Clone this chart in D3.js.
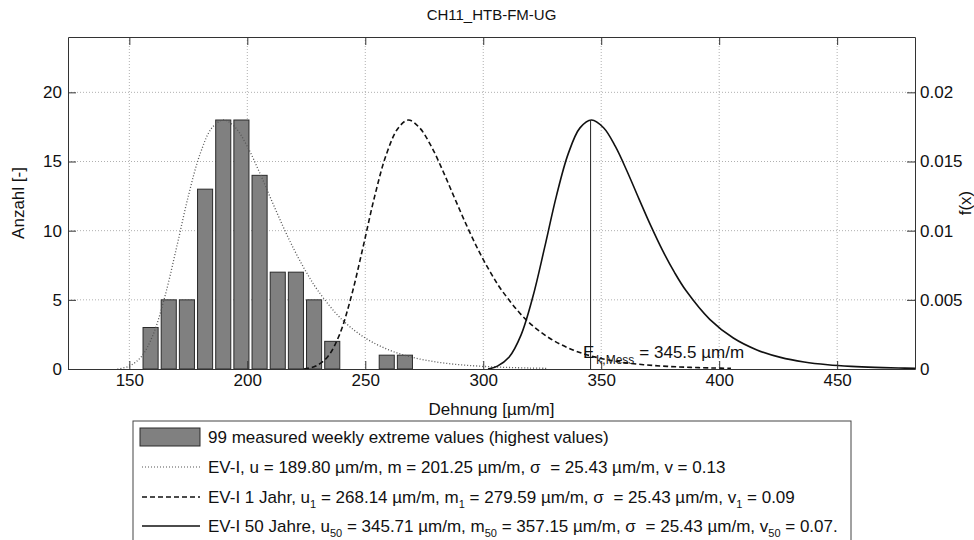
<!DOCTYPE html>
<html>
<head>
<meta charset="utf-8">
<script src="https://cdn.jsdelivr.net/npm/d3@7"></script>
<style>
  body { margin: 0; background: #fff; }
  svg { font-family: "Liberation Sans", Arial, sans-serif; }
</style>
</head>
<body>
<svg id="chart" width="974" height="540"></svg>
<script>
// ---------------- DATA ----------------
const title = "CH11_HTB-FM-UG";
const xTicks = [150, 200, 250, 300, 350, 400, 450];
const yLeftTicks = [0, 5, 10, 15, 20];
const yRightTicks = [0, 0.005, 0.01, 0.015, 0.02];
const yRightLabels = ["0", "0.005", "0.01", "0.015", "0.02"];

// histogram (bin centres, counts)
const binCenters = [159.0, 166.7, 174.4, 182.1, 189.8, 197.5, 205.2, 212.9, 220.6, 228.3, 236.0, 243.7, 251.4, 259.1, 266.8];
const binCounts  = [3, 5, 5, 13, 18, 18, 14, 7, 7, 5, 2, 0, 0, 1, 1];

// EV-I (dotted)
const evX = [145, 150, 155, 160, 165, 170, 175, 180, 185, 190, 195, 200, 205, 210, 215, 220, 225, 230, 240, 250, 260, 270, 280, 290, 300, 310, 320, 327];
const evF = [0.0, 0.00021, 0.00087, 0.00245, 0.0052, 0.00877, 0.0125, 0.01555, 0.01743, 0.0180, 0.01744, 0.01609, 0.01428, 0.0123, 0.01036, 0.00857, 0.0070, 0.00565, 0.00359, 0.00224, 0.00138, 0.00084, 0.00051, 0.00031, 0.00019, 0.000115, 0.00007, 0.00005];

// EV-I 1 Jahr (dashed)
const ev1X = [224, 229, 234, 239, 244, 249, 254, 259, 264, 268.3, 273, 278, 283, 288, 293, 298, 303, 308, 318, 328, 338, 348, 358, 368, 378, 388, 398, 405];
const ev1F = [0.0, 0.00021, 0.00087, 0.00245, 0.0052, 0.00877, 0.0125, 0.01555, 0.01743, 0.0180, 0.01744, 0.01609, 0.01428, 0.0123, 0.01036, 0.00857, 0.0070, 0.00565, 0.00359, 0.00224, 0.00138, 0.00084, 0.00051, 0.00031, 0.00019, 0.000115, 0.00007, 0.00005];

// EV-I 50 Jahre (solid)
const ev50X = [302, 306, 311, 316, 321, 326, 331, 336, 341, 345.9, 351, 356, 361, 366, 371, 376, 381, 386, 396, 406, 416, 426, 436, 446, 456, 466, 476, 483];
const ev50F = [0.0, 0.00021, 0.00087, 0.00245, 0.0052, 0.00877, 0.0125, 0.01555, 0.01743, 0.0180, 0.01744, 0.01609, 0.01428, 0.0123, 0.01036, 0.00857, 0.0070, 0.00565, 0.00359, 0.00224, 0.00138, 0.00084, 0.00051, 0.00031, 0.00019, 0.000115, 0.00007, 0.00005];

const eMess = 345.5;
const eMessPeak = 0.0180;

// ---------------- LAYOUT ----------------
const L = 68, R = 915, T = 37, B = 369;
const svg = d3.select("#chart");
const x = d3.scaleLinear().domain([124, 483]).range([L, R]);
const yL = d3.scaleLinear().domain([0, 24]).range([B, T]);
const yR = d3.scaleLinear().domain([0, 0.024]).range([B, T]);
const FS = 17;

// clip
svg.append("defs").append("clipPath").attr("id", "clip")
  .append("rect").attr("x", L).attr("y", T).attr("width", R - L).attr("height", B - T);

// grid
const grid = svg.append("g");
grid.selectAll("line.gx").data(xTicks).join("line")
  .attr("x1", d => x(d)).attr("x2", d => x(d)).attr("y1", T).attr("y2", B)
  .attr("stroke", "#b0b0b0").attr("stroke-width", 1).attr("stroke-dasharray", "1,2");
grid.selectAll("line.gy").data(yLeftTicks.filter(d => d > 0)).join("line")
  .attr("x1", L).attr("x2", R).attr("y1", d => yL(d)).attr("y2", d => yL(d))
  .attr("stroke", "#b0b0b0").attr("stroke-width", 1).attr("stroke-dasharray", "1,2");

// bars
const binW = binCenters[1] - binCenters[0];
const barFrac = 0.83;
svg.append("g").selectAll("rect").data(binCenters.map((c, i) => ({c, n: binCounts[i]})).filter(d => d.n > 0))
  .join("rect")
  .attr("x", d => x(d.c - binW * barFrac / 2))
  .attr("width", d => x(d.c + binW * barFrac / 2) - x(d.c - binW * barFrac / 2))
  .attr("y", d => yL(d.n))
  .attr("height", d => yL(0) - yL(d.n))
  .attr("fill", "#808080").attr("stroke", "#2a2a2a").attr("stroke-width", 1);

// curves
const line = d3.line().x(d => x(d[0])).y(d => yR(d[1])).curve(d3.curveCatmullRom.alpha(0.5));
const gC = svg.append("g").attr("clip-path", "url(#clip)");
gC.append("path").datum(evX.map((v, i) => [v, evF[i]])).attr("d", line)
  .attr("fill", "none").attr("stroke", "#555").attr("stroke-width", 1.3).attr("stroke-dasharray", "1,2");
gC.append("path").datum(ev1X.map((v, i) => [v, ev1F[i]])).attr("d", line)
  .attr("fill", "none").attr("stroke", "#111").attr("stroke-width", 1.6).attr("stroke-dasharray", "5,3");
gC.append("path").datum(ev50X.map((v, i) => [v, ev50F[i]])).attr("d", line)
  .attr("fill", "none").attr("stroke", "#111").attr("stroke-width", 1.6);

// E_k,Mess vertical line
svg.append("line").attr("x1", x(eMess)).attr("x2", x(eMess)).attr("y1", yR(0)).attr("y2", yR(eMessPeak))
  .attr("stroke", "#222").attr("stroke-width", 1);

// annotation
const ann = svg.append("text").attr("x", 583).attr("y", 358).attr("font-size", 17).attr("fill", "#111");
ann.append("tspan").text("E");
ann.append("tspan").attr("font-size", 12).attr("dy", 6).attr("dx", 2).text("k,Mess");
ann.append("tspan").attr("dy", -6).attr("dx", 5).text("= 345.5 µm/m");

// axes
const axB = svg.append("g").attr("transform", `translate(0,${B})`)
  .call(d3.axisBottom(x).tickValues(xTicks).tickSizeInner(-8).tickSizeOuter(0).tickPadding(5));
const axT = svg.append("g").attr("transform", `translate(0,${T})`)
  .call(d3.axisTop(x).tickValues(xTicks).tickSizeInner(-8).tickSizeOuter(0).tickFormat(""));
const axL = svg.append("g").attr("transform", `translate(${L},0)`)
  .call(d3.axisLeft(yL).tickValues(yLeftTicks).tickSizeInner(-8).tickSizeOuter(0).tickPadding(6));
const axR = svg.append("g").attr("transform", `translate(${R},0)`)
  .call(d3.axisRight(yR).tickValues(yRightTicks).tickSizeInner(-8).tickSizeOuter(0).tickPadding(5)
    .tickFormat((d, i) => yRightLabels[i]));
[axB, axT, axL, axR].forEach(a => {
  a.selectAll("text").attr("font-size", FS).attr("fill", "#111").attr("font-family", "Liberation Sans, Arial, sans-serif");
  a.selectAll("line").attr("stroke", "#333");
  a.select(".domain").attr("stroke", "#333");
});

// labels
svg.append("text").attr("x", (L + R) / 2).attr("y", 20).attr("text-anchor", "middle")
  .attr("font-size", 15).attr("fill", "#111").text(title);
svg.append("text").attr("x", (L + R) / 2).attr("y", 415).attr("text-anchor", "middle")
  .attr("font-size", FS).attr("fill", "#111").text("Dehnung [µm/m]");
svg.append("text").attr("transform", `translate(24,${(T + B) / 2}) rotate(-90)`).attr("text-anchor", "middle")
  .attr("font-size", FS).attr("fill", "#111").text("Anzahl [-]");
svg.append("text").attr("transform", `translate(971,${(T + B) / 2}) rotate(-90)`).attr("text-anchor", "middle")
  .attr("font-size", FS).attr("fill", "#111").text("f(x)");

// legend
const lg = svg.append("g");
lg.append("rect").attr("x", 133).attr("y", 421).attr("width", 718).attr("height", 130)
  .attr("fill", "#fff").attr("stroke", "#444").attr("stroke-width", 1);
const rows = [437, 467, 497, 526];
lg.append("rect").attr("x", 140).attr("y", 428).attr("width", 60).attr("height", 18)
  .attr("fill", "#808080").attr("stroke", "#2a2a2a");
lg.append("line").attr("x1", 142).attr("x2", 200).attr("y1", rows[1]).attr("y2", rows[1])
  .attr("stroke", "#555").attr("stroke-width", 1.2).attr("stroke-dasharray", "1,2");
lg.append("line").attr("x1", 142).attr("x2", 200).attr("y1", rows[2]).attr("y2", rows[2])
  .attr("stroke", "#111").attr("stroke-width", 1.4).attr("stroke-dasharray", "5,3");
lg.append("line").attr("x1", 142).attr("x2", 200).attr("y1", rows[3]).attr("y2", rows[3])
  .attr("stroke", "#111").attr("stroke-width", 1.4);

function legendText(y, parts) {
  const t = lg.append("text").attr("x", 208).attr("y", y + 6).attr("font-size", FS).attr("fill", "#111");
  parts.forEach(p => {
    if (typeof p === "string") t.append("tspan").text(p);
    else if (p.sub) {
      t.append("tspan").attr("font-size", 11).attr("dy", 5).text(p.sub);
      t.append("tspan").attr("dy", -5).text(p.after);
    } else if (p.gap) {
      t.append("tspan").attr("dx", p.gap).text(p.text);
    }
  });
}
legendText(rows[0], ["99 measured weekly extreme values (highest values)"]);
legendText(rows[1], ["EV-I, u = 189.80 µm/m, m = 201.25 µm/m, σ", {gap: 5, text: " = 25.43 µm/m, v = 0.13"}]);
legendText(rows[2], ["EV-I 1 Jahr, u", {sub: "1", after: " = 268.14 µm/m, m"}, {sub: "1", after: " = 279.59 µm/m, σ"},
  {gap: 5, text: " = 25.43 µm/m, v"}, {sub: "1", after: " = 0.09"}]);
legendText(rows[3], ["EV-I 50 Jahre, u", {sub: "50", after: " = 345.71 µm/m, m"}, {sub: "50", after: " = 357.15 µm/m, σ"},
  {gap: 5, text: " = 25.43 µm/m, v"}, {sub: "50", after: " = 0.07."}]);
</script>
</body>
</html>
